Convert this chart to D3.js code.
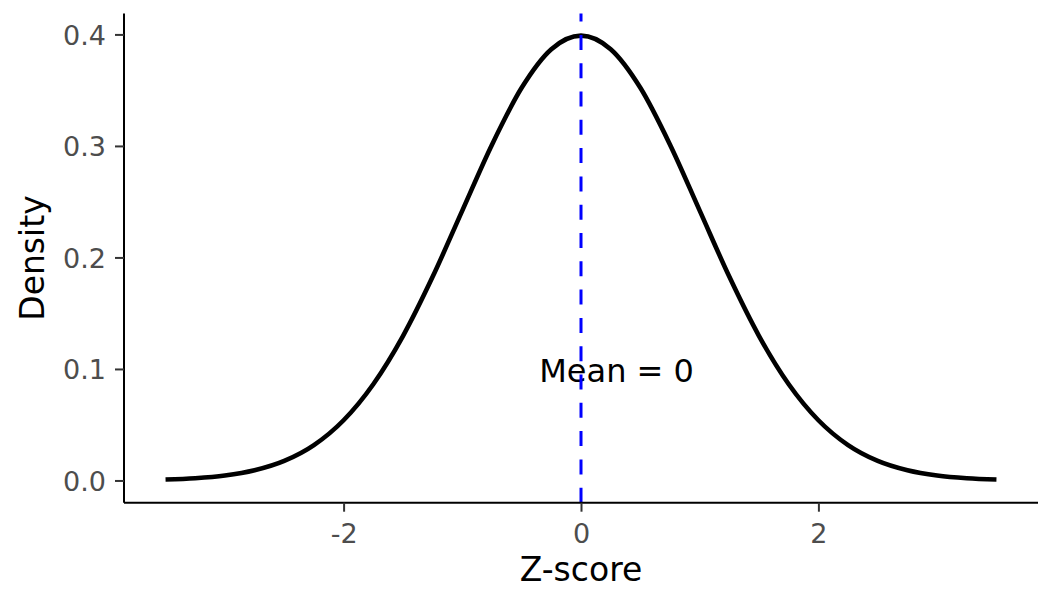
<!DOCTYPE html>
<html><head><meta charset="utf-8">
<script src="https://cdn.jsdelivr.net/npm/d3@7"></script>
<style>body{margin:0;background:#fff}svg{display:block}</style>
</head><body>
<svg id="chart" width="1038" height="591"></svg>
<script>
// Data (standard normal density)
const zValues = [-3.5,-3.25,-3,-2.75,-2.5,-2.25,-2,-1.75,-1.5,-1.25,-1,-0.75,-0.5,-0.25,0,0.25,0.5,0.75,1,1.25,1.5,1.75,2,2.25,2.5,2.75,3,3.25,3.5];
const densityValues = [0.0009,0.0020,0.0044,0.0091,0.0175,0.0317,0.0540,0.0863,0.1295,0.1826,0.2420,0.3011,0.3521,0.3867,0.3989,0.3867,0.3521,0.3011,0.2420,0.1826,0.1295,0.0863,0.0540,0.0317,0.0175,0.0091,0.0044,0.0020,0.0009];
const xTicks = [-2, 0, 2];
const xTickLabels = ["-2", "0", "2"];
const yTicks = [0, 0.1, 0.2, 0.3, 0.4];
const yTickLabels = ["0.0", "0.1", "0.2", "0.3", "0.4"];
const meanValue = 0;
const annotationText = "Mean = 0";
const annotationPos = [0.3, 0.1];
const xTitle = "Z-score";
const yTitle = "Density";

(function(){
const svg = d3.select("#chart");
const pL = 124, pR = 1038, pT = 13.4, pB = 502.7;

const xExt = d3.extent(zValues), yExt = [0, d3.max(densityValues)];
const xPad = (xExt[1]-xExt[0])*0.05, yPad = (yExt[1]-yExt[0])*0.05;
const x = d3.scaleLinear().domain([xExt[0]-xPad, xExt[1]+xPad]).range([pL, pR]);
const y = d3.scaleLinear().domain([yExt[0]-yPad, yExt[1]+yPad]).range([pB, pT]);

const font = "'DejaVu Sans', sans-serif";

const pts = zValues.map((z,i)=>[z, densityValues[i]]);
svg.append("path").datum(pts)
  .attr("d", d3.line().x(d=>x(d[0])).y(d=>y(d[1])).curve(d3.curveMonotoneX))
  .attr("fill","none").attr("stroke","#000").attr("stroke-width",4.6);

svg.append("text").attr("x", x(annotationPos[0])).attr("y", y(annotationPos[1]) + 13)
  .attr("text-anchor","middle")
  .attr("font-family",font).attr("font-size",32).attr("fill","#000")
  .text(annotationText);

svg.append("line").attr("x1",x(meanValue)).attr("x2",x(meanValue))
  .attr("y1",pB).attr("y2",pT)
  .attr("stroke","#0000ff").attr("stroke-width",3).attr("stroke-dasharray","15,13.3");

const xAxis = svg.append("g").attr("transform",`translate(0,${pB})`)
  .call(d3.axisBottom(x).tickValues(xTicks).tickFormat((d,i)=>xTickLabels[i]).tickSizeInner(9).tickSizeOuter(0).tickPadding(4));
const yAxis = svg.append("g").attr("transform",`translate(${pL},0)`)
  .call(d3.axisLeft(y).tickValues(yTicks).tickFormat((d,i)=>yTickLabels[i]).tickSizeInner(9).tickSizeOuter(0).tickPadding(9));
[xAxis, yAxis].forEach(g=>{
  g.select(".domain").attr("stroke","#000").attr("stroke-width",2);
  g.selectAll(".tick line").attr("stroke","#333").attr("stroke-width",2);
  g.selectAll(".tick text").attr("font-family",font).attr("font-size",27).attr("fill","#4d4d4d");
});
xAxis.select(".domain").attr("d",`M${pL},0H${pR}`);
yAxis.select(".domain").attr("d",`M0,${pB}V${pT}`);
xAxis.selectAll(".tick text").attr("y",40).attr("dy",0);
yAxis.selectAll(".tick text").attr("dy",0).attr("y",10);

svg.append("text").attr("x", x(0)).attr("y",581)
  .attr("text-anchor","middle").attr("font-family",font).attr("font-size",33).attr("fill","#000").text(xTitle);
svg.append("text").attr("transform",`translate(44,${(pT+pB)/2}) rotate(-90)`)
  .attr("text-anchor","middle").attr("font-family",font).attr("font-size",33).attr("fill","#000").text(yTitle);
})();
</script>
</body></html>
